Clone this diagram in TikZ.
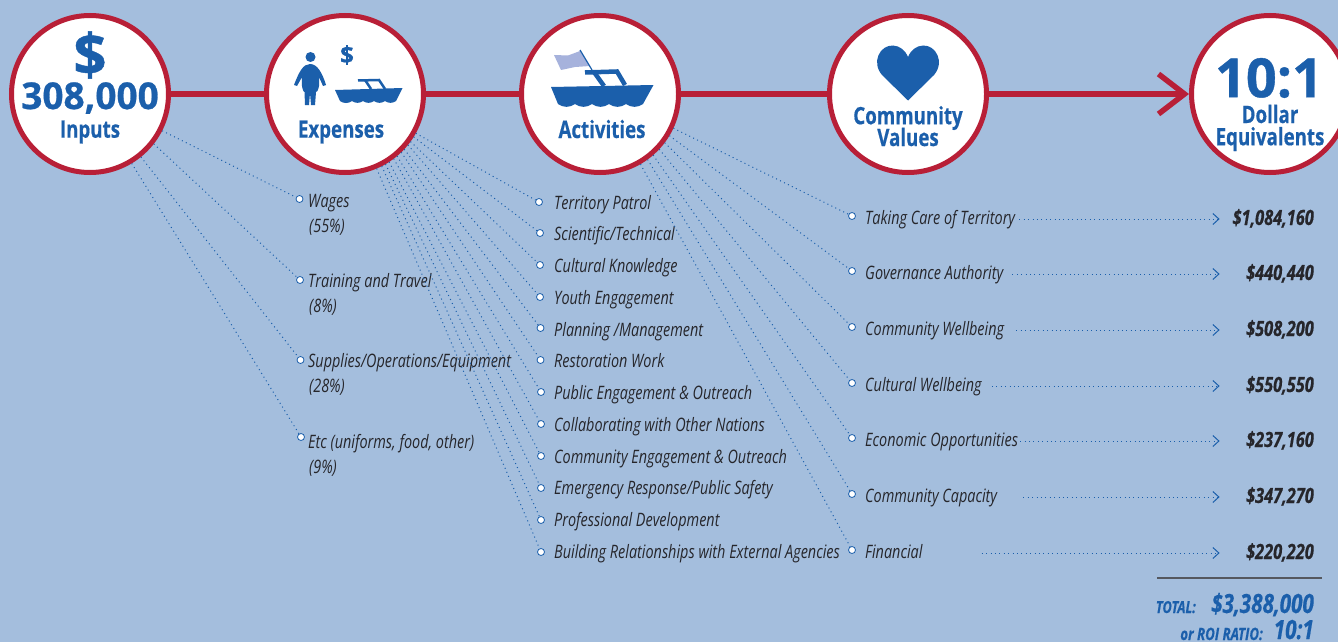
\documentclass[tikz,border=0pt]{standalone}
\usepackage{fontspec}
\setmainfont[FakeStretch=0.78, BoldFeatures={FakeBold=0.5}, BoldItalicFeatures={FakeBold=0.5}]{Open Sans}
\newfontfamily\widefont[BoldFeatures={FakeBold=0.7}]{Open Sans}
\usepackage{tikz}
\usetikzlibrary{arrows.meta}

\definecolor{skyback}{HTML}{A4BEDD}
\definecolor{roired}{HTML}{B81F37}
\definecolor{roiblue}{HTML}{1B5FAB}
\definecolor{roililac}{HTML}{A6B2DC}
\definecolor{roitext}{HTML}{26262B}
\definecolor{roigrey}{HTML}{55585F}

\begin{document}
\begin{tikzpicture}[x=1pt, y=-1pt, >={Straight Barb[length=6pt,width=11pt]}]

    \tikzstyle{stage}=[draw=roired, fill=white, shape=circle, line width=5pt, minimum size=157pt, inner sep=0pt];
    \tikzstyle{headline}=[text=roiblue, font=\fontsize{24}{24}\selectfont\bfseries, inner sep=0pt, align=center];
    \tikzstyle{bullet}=[draw=roiblue, fill=white, shape=circle, line width=0.8pt, minimum size=7pt, inner sep=0pt];
    \tikzstyle{label}=[text=roitext, font=\fontsize{18.5}{18.5}\selectfont\itshape, anchor=west, inner sep=0pt, text height=14pt, text depth=4pt];
    \tikzstyle{amount}=[text=roitext, font=\fontsize{21}{21}\selectfont\bfseries\itshape, anchor=east, inner sep=0pt, text width=90pt, align=right, text height=15pt, text depth=3pt];
    \tikzstyle{fan}=[draw=roiblue, line width=1pt, dash pattern=on 1pt off 3.4pt];
    \tikzstyle{total}=[text=roiblue, anchor=base east, inner sep=0pt, text depth=0pt];

    \clip (0, 0) rectangle (1338, 642);
    \fill [skyback] (0, 0) rectangle (1338, 642);

    % stages
    \node [stage](inputs) at (90, 94){};
    \node [stage](expenses) at (345, 94){};
    \node [stage](activities) at (600, 94){};
    \node [stage](values) at (908, 94){};
    \node [stage](dollars) at (1270, 94){};

    \draw [roired, line width=5.5pt] (inputs) to (expenses);
    \draw [roired, line width=5.5pt] (expenses) to (activities);
    \draw [roired, line width=5.5pt] (activities) to (values);
    \draw [roired, line width=5.5pt, -{Straight Barb[length=26pt,width=40pt,line width=5.5pt]}] (values) to (dollars);

    \node [headline, font=\widefont\fontsize{58}{58}\selectfont\bfseries](dollarsign) at (90, 55){\$};
    \node [headline, font=\widefont\fontsize{37}{37}\selectfont\bfseries](sum) at (90, 98){308,000};
    \node [headline](inputstext) at (90, 132){Inputs};
    \node [headline](expensestext) at (341, 132){Expenses};
    \node [headline](activitiestext) at (602, 129){Activities};
    \node [headline](valuestext) at (908, 118){Community};
    \node [headline](valuestextb) at (908, 137){Values};
    \node [headline, font=\widefont\fontsize{54}{54}\selectfont\bfseries](ratio) at (1269, 78){10:1};
    \node [headline](dollarstext) at (1270, 114){Dollar};
    \node [headline](dollarstextb) at (1270, 139){Equivalents};
    \node [headline, font=\widefont\fontsize{24}{24}\selectfont\bfseries](smalldollar) at (347, 55){\$};

    % icons
    \fill [roiblue] (310.5, 57) circle (5);
    \fill [roiblue] (310, 64) .. controls (303, 64) and (299, 72) .. (294, 85) -- (297, 86) -- (302, 77)
        .. controls (301, 86) and (303, 92) .. (304.5, 92) -- (305, 105) -- (309, 105) -- (310, 93) -- (311, 105) -- (315, 105) -- (316, 92)
        .. controls (318, 92) and (320, 86) .. (319, 77) -- (323, 86) -- (326, 85) .. controls (322, 72) and (317, 64) .. (310, 64) -- cycle;
    \fill [roiblue] (335, 90) -- (402.5, 88) -- (396, 101) to[bend left=35] (385, 101) to[bend left=35] (374, 101) to[bend left=35] (363, 101) to[bend left=35] (352, 101) to[bend left=35] (340, 101) -- cycle;
    \draw [roiblue, line width=2.5pt] (358, 80.5) -- (379, 80) -- (385, 89);
    \draw [roiblue, line width=2.5pt] (365, 80) -- (371, 89);

    \fill [roililac] (554, 55) -- (568, 55.5) -- (580, 51) -- (590, 66) -- (575, 67) -- (561, 70) -- cycle;
    \draw [roiblue, line width=1.2pt] (580, 50) -- (592, 70);
    \fill [roiblue] (551, 87) -- (653.5, 85) -- (643, 104) to[bend left=35] (626, 104) to[bend left=35] (609, 104) to[bend left=35] (592, 104) to[bend left=35] (575, 104) to[bend left=35] (558, 104) -- cycle;
    \draw [roiblue, line width=4.5pt] (585, 72.5) -- (617, 71.5) -- (625, 85);
    \draw [roiblue, line width=4.5pt] (594, 72) -- (604, 86);

    \fill [roiblue] (908, 100.5) -- (882, 75) .. controls (871, 62) and (880, 45) .. (893, 45.5)
        .. controls (900, 46) and (905, 50) .. (908, 57) .. controls (911, 50) and (916, 46) .. (923, 45.5)
        .. controls (936, 45) and (945, 62) .. (934, 75) -- cycle;

    % input shares
    \node [bullet](wagesdot) at (299.5, 199){};
    \node [bullet](trainingdot) at (300, 280){};
    \node [bullet](suppliesdot) at (300.5, 360){};
    \node [bullet](etcdot) at (301, 437){};

    \node [label](wages) at (308, 202){Wages};
    \node [label](wagesshare) at (309, 227){(55\%)};
    \node [label](training) at (308, 282){Training and Travel};
    \node [label](trainingshare) at (309, 307){(8\%)};
    \node [label](supplies) at (308, 362){Supplies/Operations/Equipment};
    \node [label](suppliesshare) at (309, 387){(28\%)};
    \node [label](etc) at (308, 443){Etc (uniforms, food, other)};
    \node [label](etcshare) at (309, 468){(9\%)};

    \draw [fan] (inputs.-27) to (wagesdot);
    \draw [fan] (inputs.-38) to (trainingdot);
    \draw [fan] (inputs.-51) to (suppliesdot);
    \draw [fan] (inputs.-59) to (etcdot);

    % activities
    \node [bullet](patroldot) at (539, 202){};
    \node [bullet](sciencedot) at (540, 233){};
    \node [bullet](culturedot) at (540, 265){};
    \node [bullet](youthdot) at (540, 297){};
    \node [bullet](planningdot) at (540.5, 328){};
    \node [bullet](restoredot) at (540.5, 360){};
    \node [bullet](publicdot) at (541, 392){};
    \node [bullet](nationsdot) at (541, 424){};
    \node [bullet](communitydot) at (541, 456){};
    \node [bullet](emergencydot) at (541, 488){};
    \node [bullet](trainingdevdot) at (541, 520){};
    \node [bullet](agenciesdot) at (541, 552){};

    \node [label](patrol) at (554, 204){Territory Patrol};
    \node [label](science) at (554, 235){Scientific/Technical};
    \node [label](culture) at (554, 267){Cultural Knowledge};
    \node [label](youth) at (554, 299){Youth Engagement};
    \node [label](planning) at (554, 331){Planning /Management};
    \node [label](restore) at (554, 362){Restoration Work};
    \node [label](public) at (554, 394){Public Engagement \& Outreach};
    \node [label](nations) at (554, 426){Collaborating with Other Nations};
    \node [label](community) at (554, 458){Community Engagement \& Outreach};
    \node [label](emergency) at (554, 489){Emergency Response/Public Safety};
    \node [label](trainingdev) at (554, 521){Professional Development};
    \node [label](agencies) at (554, 553){Building Relationships with External Agencies};

    \draw [fan] (expenses.-29) to (patroldot);
    \draw [fan] (expenses.-32.5) to (sciencedot);
    \draw [fan] (expenses.-36) to (culturedot);
    \draw [fan] (expenses.-39.5) to (youthdot);
    \draw [fan] (expenses.-43) to (planningdot);
    \draw [fan] (expenses.-46.5) to (restoredot);
    \draw [fan] (expenses.-50) to (publicdot);
    \draw [fan] (expenses.-53.5) to (nationsdot);
    \draw [fan] (expenses.-57) to (communitydot);
    \draw [fan] (expenses.-60) to (emergencydot);
    \draw [fan] (expenses.-63.5) to (trainingdevdot);
    \draw [fan] (expenses.-67) to (agenciesdot);

    % community values
    \node [bullet](caredot) at (852, 216){};
    \node [bullet](authoritydot) at (852, 271){};
    \node [bullet](wellbeingdot) at (852, 327){};
    \node [bullet](culturaldot) at (852, 383){};
    \node [bullet](economicdot) at (852, 438){};
    \node [bullet](capacitydot) at (852, 494){};
    \node [bullet](financialdot) at (852, 550){};

    \node [label](care) at (865, 219){Taking Care of Territory};
    \node [label](authority) at (865, 274){Governance Authority};
    \node [label](wellbeing) at (865, 330){Community Wellbeing};
    \node [label](cultural) at (865, 386){Cultural Wellbeing};
    \node [label](economic) at (865, 441){Economic Opportunities};
    \node [label](capacity) at (865, 497){Community Capacity};
    \node [label](financial) at (865, 553){Financial};

    \draw [fan] (activities.-25) to (caredot);
    \draw [fan] (activities.-31) to (authoritydot);
    \draw [fan] (activities.-37) to (wellbeingdot);
    \draw [fan] (activities.-43) to (culturaldot);
    \draw [fan] (activities.-49) to (economicdot);
    \draw [fan] (activities.-54) to (capacitydot);
    \draw [fan] (activities.-60) to (financialdot);

    % dollar amounts
    \node [amount](careamount) at (1314, 219){\$1,084,160};
    \node [amount](authorityamount) at (1314, 274){\$440,440};
    \node [amount](wellbeingamount) at (1314, 330){\$508,200};
    \node [amount](culturalamount) at (1314, 386){\$550,550};
    \node [amount](economicamount) at (1314, 441){\$237,160};
    \node [amount](capacityamount) at (1314, 497){\$347,270};
    \node [amount](financialamount) at (1314, 553){\$220,220};

    \draw [fan, ->, shorten <=4pt, shorten >=4pt] (care) to (careamount);
    \draw [fan, ->, shorten <=9pt, shorten >=4pt] (authority) to (authorityamount);
    \draw [fan, ->, shorten <=12pt, shorten >=4pt] (wellbeing) to (wellbeingamount);
    \draw [fan, ->, shorten <=10pt, shorten >=4pt] (cultural) to (culturalamount);
    \draw [fan, ->, shorten <=2pt, shorten >=4pt] (economic) to (economicamount);
    \draw [fan, ->, shorten <=26pt, shorten >=4pt] (capacity) to (capacityamount);
    \draw [fan, ->, shorten <=59pt, shorten >=4pt] (financial) to (financialamount);

    % totals
    \coordinate (ruleleft) at (1157, 578);
    \coordinate (ruleright) at (1322, 578);
    \draw [roigrey, line width=1.8pt] (ruleleft) to (ruleright);

    \node [total, font=\fontsize{16.5}{16.5}\selectfont\bfseries\itshape](totaltext) at (1196, 613){TOTAL:};
    \node [total, font=\fontsize{26.5}{26.5}\selectfont\bfseries\itshape](totalamount) at (1314, 613){\$3,388,000};
    \node [total, font=\fontsize{17}{17}\selectfont\bfseries\itshape](roitext) at (1263, 640){or ROI RATIO:};
    \node [total, font=\fontsize{26.5}{26.5}\selectfont\bfseries\itshape](roiamount) at (1314, 639){10:1};

\end{tikzpicture}
\end{document}
